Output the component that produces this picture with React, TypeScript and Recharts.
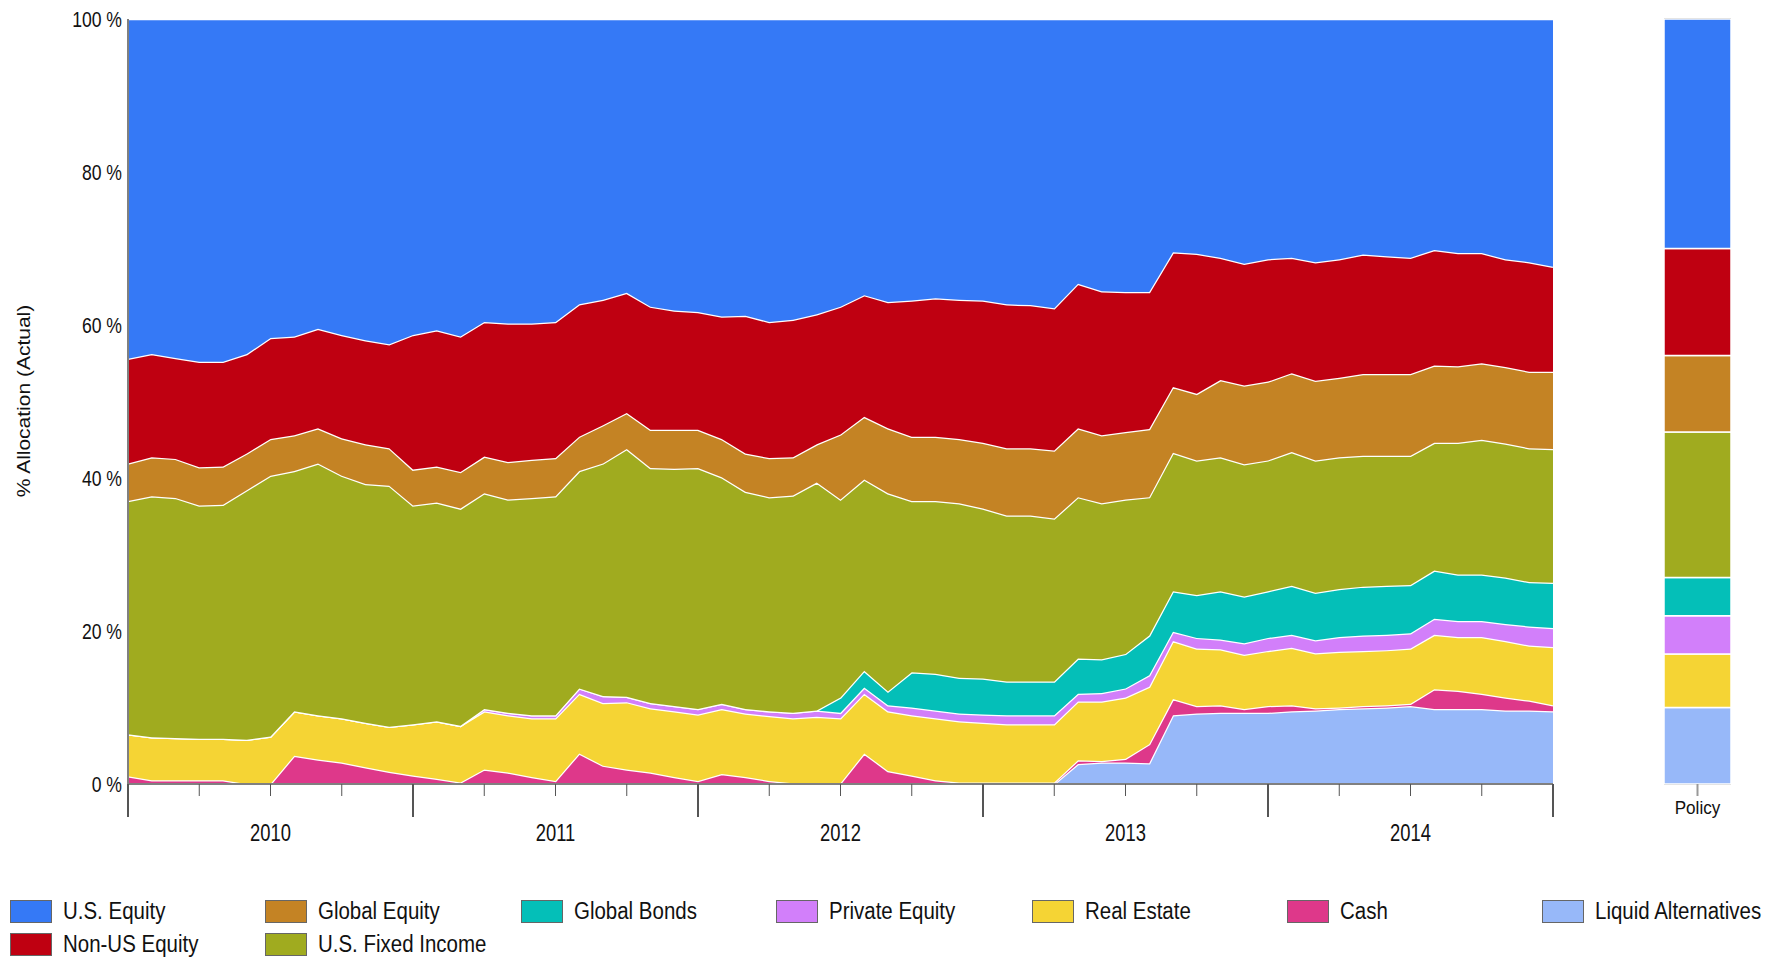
import { AreaChart, Area, BarChart, Bar, XAxis, YAxis, ReferenceArea } from "recharts";

// month index 0 = first month-end shown, 60 = last
const months = [
  0, 1, 2, 3, 4, 5, 6, 7, 8, 9, 10, 11, 12, 13, 14, 15, 16, 17, 18, 19, 20,
  21, 22, 23, 24, 25, 26, 27, 28, 29, 30, 31, 32, 33, 34, 35, 36, 37, 38, 39, 40,
  41, 42, 43, 44, 45, 46, 47, 48, 49, 50, 51, 52, 53, 54, 55, 56, 57, 58, 59, 60,
];
const yearLabels = ["2010", "2011", "2012", "2013", "2014"];
const xTicks = [0, 3, 6, 9, 12, 15, 18, 21, 24, 27, 30, 33, 36, 39, 42, 45, 48, 51, 54, 57, 60];
const yTicks = [0, 0.2, 0.4, 0.6, 0.8, 1];

const usEquity = [
  44.4, 43.8, 44.3, 44.8, 44.8, 43.8, 41.7, 41.5, 40.5, 41.3, 42.0, 42.5, 41.3, 40.7, 41.5, 39.6,
  39.8, 39.8, 39.6, 37.3, 36.7, 35.8, 37.6, 38.1, 38.3, 38.9, 38.8, 39.6, 39.3, 38.6, 37.6, 36.1,
  37.0, 36.8, 36.5, 36.7, 36.8, 37.3, 37.4, 37.8, 34.6, 35.6, 35.7, 35.7, 30.5, 30.7, 31.2, 32.0,
  31.4, 31.2, 31.8, 31.4, 30.8, 31.0, 31.2, 30.2, 30.6, 30.6, 31.4, 31.8, 32.4,
];
const nonUsEquity = [
  13.7, 13.5, 13.2, 13.8, 13.7, 13.0, 13.2, 12.9, 13.0, 13.5, 13.6, 13.6, 17.6, 17.8, 17.7, 17.6,
  18.1, 17.8, 17.8, 17.3, 16.4, 15.7, 16.1, 15.6, 15.4, 16.0, 18.0, 17.8, 18.0, 17.0, 16.7, 15.9,
  16.5, 17.8, 18.1, 18.2, 18.6, 18.8, 18.7, 18.6, 18.9, 18.8, 18.3, 17.9, 17.6, 18.3, 16.0, 15.9,
  16.0, 15.1, 15.5, 15.5, 15.6, 15.4, 15.2, 15.1, 14.8, 14.4, 14.1, 14.3, 13.7,
];
const globalEquity = [
  4.9, 5.1, 5.1, 5.0, 5.0, 4.8, 4.8, 4.7, 4.6, 4.9, 5.2, 4.9, 4.7, 4.7, 4.8, 4.8,
  4.9, 5.0, 5.0, 4.5, 5.0, 4.7, 5.0, 5.1, 5.0, 5.0, 5.0, 5.1, 5.0, 5.0, 8.5, 8.2,
  8.5, 8.4, 8.4, 8.4, 8.6, 8.8, 8.8, 8.9, 9.0, 8.9, 8.8, 8.9, 8.6, 8.7, 10.1, 10.3,
  10.3, 10.3, 10.4, 10.4, 10.7, 10.7, 10.7, 10.1, 10.0, 10.0, 10.0, 10.0, 10.1,
];
const usFixedIncome = [
  30.5, 31.5, 31.4, 30.5, 30.6, 32.6, 34.1, 31.4, 32.9, 31.7, 31.2, 31.5, 28.6, 28.6, 28.4, 28.2,
  27.9, 28.4, 28.6, 28.4, 30.4, 32.4, 30.7, 31.0, 31.5, 29.6, 28.4, 28.0, 28.4, 29.8, 25.9, 25.0,
  25.9, 22.4, 22.6, 22.8, 22.2, 21.7, 21.7, 21.3, 21.1, 20.4, 20.2, 18.1, 18.1, 17.6, 17.5, 17.3,
  17.1, 17.5, 17.3, 17.2, 17.1, 17.0, 16.9, 16.7, 17.2, 17.6, 17.5, 17.5, 17.5,
];
const globalBonds = [
  0, 0, 0, 0, 0, 0, 0, 0, 0, 0, 0, 0, 0, 0, 0, 0,
  0, 0, 0, 0, 0, 0, 0, 0, 0, 0, 0, 0, 0, 0, 2.0, 2.2,
  1.8, 4.6, 4.8, 4.7, 4.7, 4.4, 4.4, 4.4, 4.6, 4.4, 4.5, 5.2, 5.3, 5.6, 6.3, 6.1,
  6.1, 6.4, 6.2, 6.3, 6.4, 6.4, 6.3, 6.3, 6.1, 6.1, 6.1, 5.8, 5.9,
];
const privateEquity = [
  0, 0, 0, 0, 0, 0, 0, 0, 0, 0, 0, 0, 0, 0, 0, 0.3,
  0.3, 0.4, 0.4, 0.7, 0.9, 0.7, 0.7, 0.7, 0.7, 0.7, 0.6, 0.6, 0.7, 0.8, 0.7, 0.8,
  0.8, 1.0, 1.0, 1.0, 1.1, 1.2, 1.2, 1.2, 1.0, 1.1, 1.2, 1.5, 1.2, 1.4, 1.3, 1.5,
  1.7, 1.7, 1.7, 1.9, 2.0, 2.0, 2.0, 2.1, 2.1, 2.1, 2.2, 2.5, 2.5,
];
const realEstate = [
  5.5, 5.6, 5.5, 5.4, 5.4, 5.8, 6.2, 5.8, 5.8, 5.8, 5.8, 5.9, 6.7, 7.5, 7.4, 7.6,
  7.5, 7.7, 8.2, 7.8, 8.2, 8.8, 8.4, 8.6, 8.7, 8.5, 8.3, 8.5, 8.5, 8.7, 8.5, 7.8,
  7.8, 7.9, 8.1, 8.0, 7.8, 7.6, 7.6, 7.6, 7.7, 7.8, 8.0, 7.5, 7.6, 7.5, 7.3, 7.1,
  7.2, 7.5, 7.2, 7.3, 7.2, 7.2, 7.2, 7.1, 7.0, 7.4, 7.4, 7.2, 7.6,
];
const cash = [
  1.0, 0.5, 0.5, 0.5, 0.5, 0, 0, 3.7, 3.2, 2.8, 2.2, 1.6, 1.1, 0.7, 0.2, 1.9,
  1.5, 0.9, 0.4, 4.0, 2.4, 1.9, 1.5, 0.9, 0.4, 1.3, 0.9, 0.4, 0.1, 0.1, 0.1, 4.0,
  1.7, 1.1, 0.5, 0.2, 0.2, 0.2, 0.2, 0.2, 0.5, 0.2, 0.5, 2.5, 2.1, 1.0, 1.0, 0.5,
  0.9, 0.8, 0.3, 0.2, 0.3, 0.3, 0.3, 2.6, 2.4, 2.0, 1.7, 1.3, 0.8,
];
const liquidAlternatives = [
  0, 0, 0, 0, 0, 0, 0, 0, 0, 0, 0, 0, 0, 0, 0, 0,
  0, 0, 0, 0, 0, 0, 0, 0, 0, 0, 0, 0, 0, 0, 0, 0,
  0, 0, 0, 0, 0, 0, 0, 0, 2.6, 2.8, 2.8, 2.7, 9.0, 9.2, 9.3, 9.3,
  9.3, 9.5, 9.6, 9.8, 9.9, 10.0, 10.2, 9.8, 9.8, 9.8, 9.6, 9.6, 9.5,
];

// policy targets, same order as series (top of stack first)
const policyWeights = [30, 14, 10, 19, 5, 5, 7, 0, 10];

const series = [
  { key: "usEquity", name: "U.S. Equity", color: "#3579f6", values: usEquity },
  { key: "nonUsEquity", name: "Non-US Equity", color: "#bf0011", values: nonUsEquity },
  { key: "globalEquity", name: "Global Equity", color: "#c48324", values: globalEquity },
  { key: "usFixedIncome", name: "U.S. Fixed Income", color: "#a0ab1f", values: usFixedIncome },
  { key: "globalBonds", name: "Global Bonds", color: "#04bfb8", values: globalBonds },
  { key: "privateEquity", name: "Private Equity", color: "#d27ffa", values: privateEquity },
  { key: "realEstate", name: "Real Estate", color: "#f5d434", values: realEstate },
  { key: "cash", name: "Cash", color: "#de388a", values: cash },
  { key: "liquidAlternatives", name: "Liquid Alternatives", color: "#97b8f9", values: liquidAlternatives },
];

// legend rows as laid out under the chart
const legendRows = [
  ["usEquity", "globalEquity", "globalBonds", "privateEquity", "realEstate", "cash", "liquidAlternatives"],
  ["nonUsEquity", "usFixedIncome"],
];

const data = months.map((m, i) => {
  const row: Record<string, number> = { m };
  series.forEach((s) => (row[s.key] = s.values[i]));
  return row;
});

const policyRow: Record<string, any> = { name: "Policy" };
series.forEach((s, i) => (policyRow[s.key] = policyWeights[i]));
const policyData = [policyRow];

const stackOrder = [...series].reverse(); // bottom of the stack first

const FONT = "'Liberation Sans', Arial, sans-serif";

const YTick = (props: any) => {
  const { x, y, payload } = props;
  return (
    <g transform={`translate(${x},${y}) scale(0.8,1)`}>
      <text x={0} y={0} textAnchor="end" dominantBaseline="central" fontSize={22} fill="#111" fontFamily={FONT}>
        {`${Math.round(payload.value * 100)} %`}
      </text>
    </g>
  );
};

const XTick = (props: any) => {
  const { x, y, payload } = props;
  const v = payload.value as number;
  const major = v % 12 === 0;
  const label = v % 12 === 6 ? yearLabels[(v - 6) / 12] : null;
  return (
    <g>
      <line x1={x} x2={x} y1={y} y2={y + (major ? 33 : 12)} stroke="#555" strokeWidth={major ? 2 : 1} />
      {label && (
        <g transform={`translate(${x},${y + 49}) scale(0.8,1)`}>
          <text x={0} y={0} textAnchor="middle" dominantBaseline="central" fontSize={23} fill="#111" fontFamily={FONT}>
            {label}
          </text>
        </g>
      )}
    </g>
  );
};

const PolicyTick = (props: any) => {
  const { x, y, payload } = props;
  return (
    <g>
      <line x1={x} x2={x} y1={y} y2={y + 12} stroke="#999" strokeWidth={2} />
      <g transform={`translate(${x},${y + 24}) scale(0.9,1)`}>
        <text x={0} y={0} textAnchor="middle" dominantBaseline="central" fontSize={19} fill="#111" fontFamily={FONT}>
          {payload.value}
        </text>
      </g>
    </g>
  );
};

const YTitle = () => (
  <g transform="translate(24,401) rotate(-90) scale(1,0.85)">
    <text x={0} y={0} textAnchor="middle" dominantBaseline="central" fontSize={21} fill="#111" fontFamily={FONT}>
      % Allocation (Actual)
    </text>
  </g>
);

export default function App() {
  return (
    <div style={{ position: "absolute", left: 0, top: 0, width: 1780, height: 959, background: "#fff" }}>
      <div style={{ position: "absolute", left: 0, top: 0 }}>
        <AreaChart
          width={1580}
          height={870}
          data={data}
          stackOffset="expand"
          margin={{ top: 19, right: 27, bottom: 26, left: 0 }}
        >
          <XAxis
            dataKey="m"
            type="number"
            domain={[0, 60]}
            ticks={xTicks}
            interval={0}
            tick={<XTick />}
            tickLine={false}
            tickSize={0}
            tickMargin={0}
            height={60}
            axisLine={{ stroke: "#808080", strokeWidth: 2 }}
          />
          <YAxis
            type="number"
            domain={[0, 1]}
            ticks={yTicks}
            interval={0}
            width={128}
            tick={<YTick />}
            tickLine={false}
            tickSize={0}
            tickMargin={6}
            axisLine={{ stroke: "#808080", strokeWidth: 2 }}
            label={{ content: () => <YTitle /> }}
          />
          {stackOrder.map((s) => (
            <Area
              key={s.key}
              type="linear"
              dataKey={s.key}
              name={s.name}
              stackId="a"
              fill={s.color}
              fillOpacity={1}
              stroke="#fff"
              strokeWidth={2.5}
              isAnimationActive={false}
            />
          ))}
        </AreaChart>
      </div>

      <div style={{ position: "absolute", left: 1664, top: 0 }}>
        <BarChart
          width={67}
          height={870}
          data={policyData}
          barCategoryGap={0}
          margin={{ top: 19, right: 0, bottom: 26, left: 0 }}
        >
          <XAxis
            dataKey="name"
            interval={0}
            tick={<PolicyTick />}
            tickLine={false}
            tickSize={0}
            tickMargin={0}
            axisLine={false}
            height={60}
          />
          <YAxis hide type="number" domain={[0, 100]} />
          {stackOrder.map((s) => (
            <Bar
              key={s.key}
              dataKey={s.key}
              stackId="p"
              fill={s.color}
              stroke="#fff"
              strokeWidth={1.5}
              isAnimationActive={false}
            />
          ))}
          <ReferenceArea x1="Policy" x2="Policy" y1={0} y2={100} fill="none" stroke="#707070" strokeWidth={1.5} />
        </BarChart>
      </div>

      {legendRows.map((row, r) =>
        row.map((key, c) => {
          const s = series.find((d) => d.key === key)!;
          return (
            <div
              key={key}
              style={{ position: "absolute", left: 10 + c * 255.4, top: 900 + r * 33, height: 23, display: "flex", alignItems: "center" }}
            >
              <div style={{ width: 40, height: 21, background: s.color, border: "1px solid #666" }} />
              <div
                style={{
                  marginLeft: 11,
                  fontFamily: FONT,
                  fontSize: 23,
                  lineHeight: "23px",
                  color: "#111",
                  whiteSpace: "nowrap",
                  transform: "scaleX(0.89)",
                  transformOrigin: "left center",
                }}
              >
                {s.name}
              </div>
            </div>
          );
        })
      )}
    </div>
  );
}
